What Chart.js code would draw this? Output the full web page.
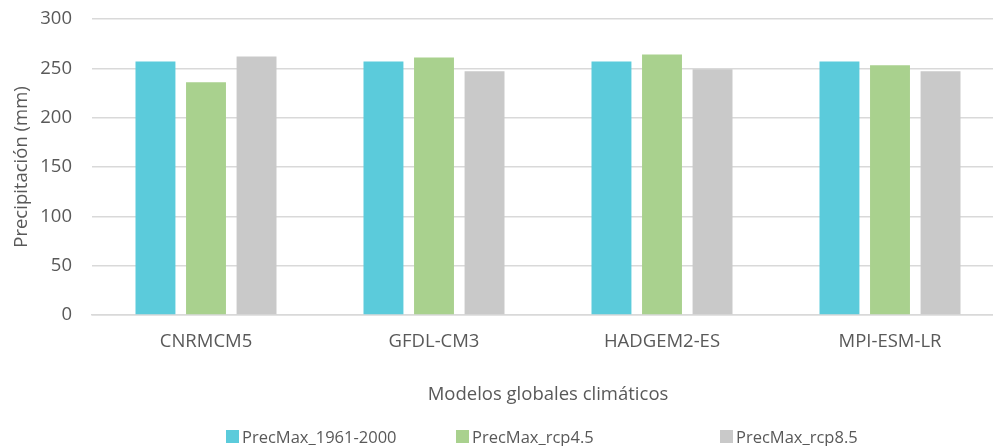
<!DOCTYPE html>
<html>
<head>
<meta charset="utf-8">
<script src="https://cdn.jsdelivr.net/npm/chart.js@4/dist/chart.umd.min.js"></script>
<style>
  html, body { margin: 0; padding: 0; background: #fff; overflow: hidden; }
  .wrap { position: relative; width: 1004px; height: 446px; }
  .legend {
    position: absolute; left: 226px; top: 425px;
    display: flex; align-items: center;
    font-family: "Open Sans", sans-serif; font-size: 16.5px; color: #595959;
  }
  .legend .item { display: flex; align-items: center; }
  .legend .box { width: 13px; height: 13px; margin-right: 3px; }
</style>
</head>
<body>
<div class="wrap">
  <canvas id="chart"></canvas>
  <div class="legend" id="legend"></div>
</div>
<script>
// modelos
var categories = ["CNRMCM5", "GFDL-CM3", "HADGEM2-ES", "MPI-ESM-LR"];
var seriesNames = ["PrecMax_1961-2000", "PrecMax_rcp4.5", "PrecMax_rcp8.5"];
var hist = [257, 257, 257, 257];
var rcp45 = [236, 261, 264, 253];
var rcp85 = [262, 247, 249, 247];
var yTicks = [0, 50, 100, 150, 200, 250, 300];

var colors = ["#5bcbdb", "#a9d18e", "#c9c9c9"];
var textColor = "#595959";
var font = "'Open Sans', sans-serif";

var datasets = [hist, rcp45, rcp85].map(function (d, i) {
    return {
        label: seriesNames[i],
        data: d,
        backgroundColor: colors[i],
        borderWidth: 0,
        barPercentage: 0.79,
        categoryPercentage: 0.665
    };
});

new Chart(document.getElementById("chart"), {
    type: "bar",
    data: { labels: categories, datasets: datasets },
    options: {
        responsive: true,
        maintainAspectRatio: false,
        animation: false,
        layout: { padding: { top: 19, left: 0, right: 0, bottom: 40 } },
        plugins: { legend: { display: false }, tooltip: { enabled: false } },
        scales: {
            x: {
                grid: { display: false, drawTicks: false },
                border: { display: true, color: "#d9d9d9", width: 1.5 },
                ticks: { color: textColor, font: { family: font, size: 18.5 }, padding: 16 },
                title: {
                    display: true, text: "Modelos globales climáticos",
                    color: textColor, font: { family: font, size: 18.5 },
                    padding: { top: 0, bottom: 0 }
                },
                afterFit: function (s) { s.height = 91; }
            },
            y: {
                min: 0, max: 300,
                afterBuildTicks: function (s) { s.ticks = yTicks.map(function (v) { return { value: v }; }); },
                grid: { color: "#d9d9d9", lineWidth: 1.5, drawTicks: false },
                border: { display: false },
                ticks: { color: textColor, font: { family: font, size: 18.5 }, padding: 20 },
                title: {
                    display: true, text: "Precipitación (mm)",
                    color: textColor, font: { family: font, size: 18.5 },
                    padding: { top: 11, bottom: 0 }
                },
                // v4 suma el padding de ticks arriba; lo quitamos
                afterFit: function (s) { s.width = 92; s.paddingTop = 0; s.paddingBottom = 0; }
            }
        }
    }
});

// leyenda
var legend = document.getElementById("legend");
var itemWidths = [230, 264, 0];
seriesNames.forEach(function (name, i) {
    var item = document.createElement("div");
    item.className = "item";
    if (itemWidths[i]) item.style.width = itemWidths[i] + "px";
    var box = document.createElement("span");
    box.className = "box";
    box.style.background = colors[i];
    var label = document.createElement("span");
    label.textContent = name;
    item.appendChild(box);
    item.appendChild(label);
    legend.appendChild(item);
});
</script>
</body>
</html>
